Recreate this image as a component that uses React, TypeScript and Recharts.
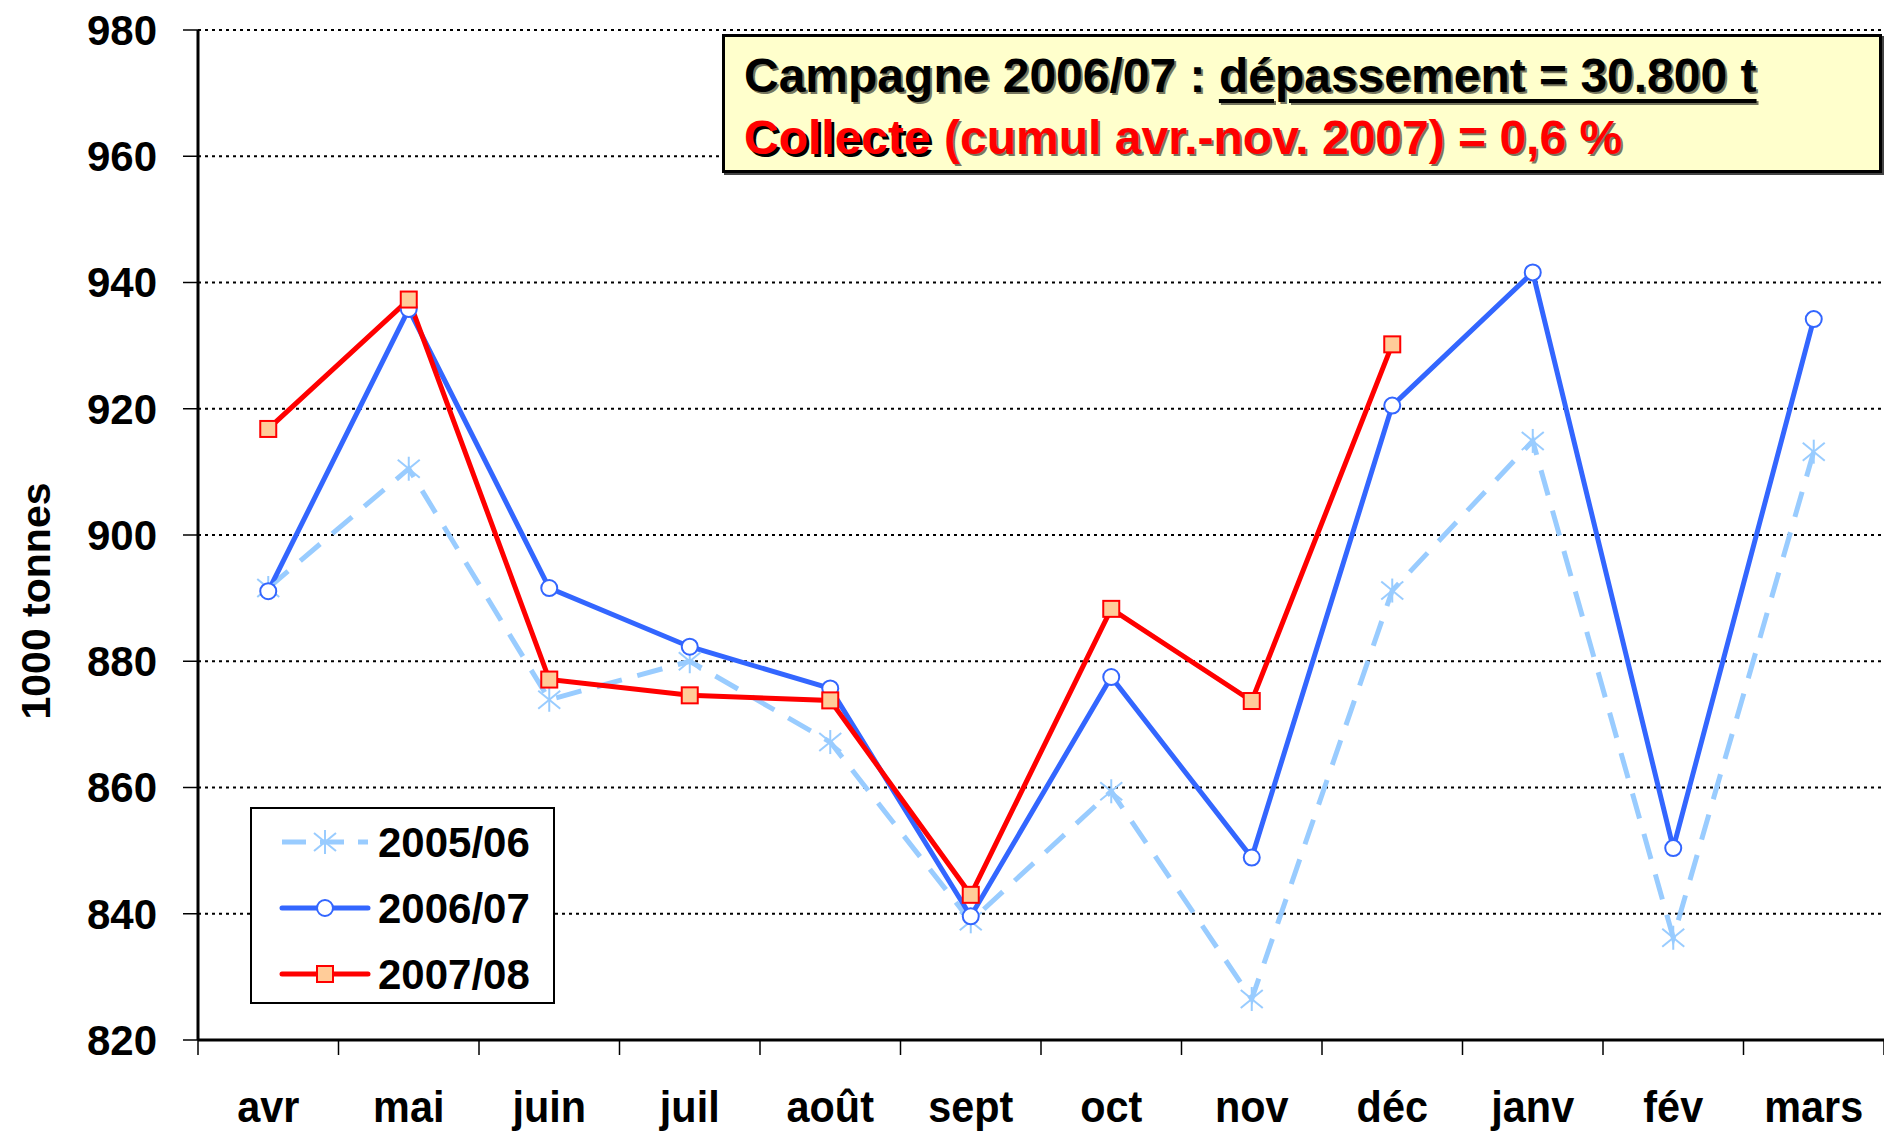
import React from 'react'
import { LineChart, Line, XAxis, YAxis, CartesianGrid, Legend } from 'recharts'

const FONT = '"Liberation Sans", Arial, sans-serif'

const months = ['avr', 'mai', 'juin', 'juil', 'août', 'sept', 'oct', 'nov', 'déc', 'janv', 'fév', 'mars']
const v2005 = [891.6, 910.5, 873.9, 880.0, 867.2, 838.8, 859.4, 826.5, 891.2, 914.9, 836.2, 913.2]
const v2006 = [891.1, 935.8, 891.6, 882.3, 875.7, 839.6, 877.5, 848.9, 920.5, 941.6, 850.4, 934.2]
const v2007 = [916.8, 937.3, 877.1, 874.6, 873.8, 843.0, 888.3, 873.7, 930.2, null, null, null]
const yTicks = [820, 840, 860, 880, 900, 920, 940, 960, 980]

const seriesNames = ['2005/06', '2006/07', '2007/08']
const C_LIGHT = '#99CCFF'
const C_BLUE = '#3366FF'
const C_RED = '#FF0000'

const data = months.map((m, i) => ({
  month: m,
  a: v2005[i],
  b: v2006[i],
  c: v2007[i],
}))

// marqueurs
const Star = ({ cx, cy, k }: { cx: number; cy: number; k?: string }) => (
  <g key={k}>
    <line x1={cx} y1={cy - 12} x2={cx} y2={cy + 12} stroke={C_LIGHT} strokeWidth={2} />
    <line x1={cx - 11} y1={cy - 9} x2={cx + 11} y2={cy + 9} stroke={C_LIGHT} strokeWidth={2} />
    <line x1={cx - 11} y1={cy + 9} x2={cx + 11} y2={cy - 9} stroke={C_LIGHT} strokeWidth={2} />
  </g>
)
const Circle = ({ cx, cy, k }: { cx: number; cy: number; k?: string }) => (
  <circle key={k} cx={cx} cy={cy} r={8} fill="#fff" stroke={C_BLUE} strokeWidth={2} />
)
const Square = ({ cx, cy, k }: { cx: number; cy: number; k?: string }) => (
  <rect key={k} x={cx - 8} y={cy - 8} width={16} height={16} fill="#FFCC99" stroke={C_RED} strokeWidth={2} />
)

const dotFn = (Shape: typeof Star, name: string) => (p: any) => {
  if (p.cx == null || p.cy == null || p.value == null) return <g key={`${name}-${p.index}`} />
  return <Shape key={`${name}-${p.index}`} k={`${name}-${p.index}`} cx={p.cx} cy={p.cy} />
}

const MonthTick = (props: any) => {
  const { x, y, payload, index, visibleTicksCount } = props
  const half = payload?.offset || 70.25
  return (
    <g>
      <line x1={x - half} x2={x - half} y1={y} y2={y + 15} stroke="#000" strokeWidth={1.5} />
      {index === visibleTicksCount - 1 && (
        <line x1={x + half} x2={x + half} y1={y} y2={y + 15} stroke="#000" strokeWidth={1.5} />
      )}
      <text transform={`translate(${x},${y + 82}) scale(0.92,1)`} textAnchor="middle"
        fontFamily={FONT} fontWeight={700} fontSize={45} fill="#000">{payload.value}</text>
    </g>
  )
}

const LegendBox = () => {
  const rows = [
    { name: seriesNames[0], color: C_LIGHT, dash: '24 14', Shape: Star },
    { name: seriesNames[1], color: C_BLUE, dash: undefined, Shape: Circle },
    { name: seriesNames[2], color: C_RED, dash: undefined, Shape: Square },
  ]
  return (
    <div style={{ width: 305, height: 197, border: '2px solid #000', background: '#fff', boxSizing: 'border-box' }}>
      <svg width={301} height={193}>
        {rows.map((r, i) => {
          const cy = 33 + i * 66
          return (
            <g key={r.name}>
              <line x1={30} x2={116} y1={cy} y2={cy} stroke={r.color} strokeWidth={5} strokeDasharray={r.dash} strokeLinecap={r.dash ? 'butt' : 'round'} />
              <r.Shape cx={73} cy={cy} />
              <text x={126} y={cy + 15} fontFamily={FONT} fontWeight={700} fontSize={42} fill="#000">{r.name}</text>
            </g>
          )
        })}
      </svg>
    </div>
  )
}

export default function App() {
  const shadow = '2px 2px 0 rgba(0,0,0,0.55)'
  return (
    <div style={{ position: 'absolute', left: 0, top: 0, width: 1884, height: 1132, background: '#fff', fontFamily: FONT }}>
      <LineChart width={1884} height={1132} data={data} margin={{ top: 30, right: 0, bottom: 0, left: 0 }}>
        <CartesianGrid vertical={false} stroke="#000" strokeWidth={2} strokeDasharray="3 4" />
        <XAxis dataKey="month" scale="band" interval={0} height={92} tickSize={0} tickMargin={0} tickLine={false}
          axisLine={{ stroke: '#000', strokeWidth: 3 }} tick={<MonthTick />} />
        <YAxis domain={[820, 980]} ticks={yTicks} interval={0} width={198} tickSize={15} tickMargin={26}
          axisLine={{ stroke: '#000', strokeWidth: 3 }} tickLine={{ stroke: '#000', strokeWidth: 1.5 }}
          tick={{ fontFamily: FONT, fontWeight: 700, fontSize: 42, fill: '#000' }}
          label={{
            content: () => (
              <text x={50} y={601} transform="rotate(-90 50 601)" textAnchor="middle"
                fontFamily={FONT} fontWeight={700} fontSize={41} fill="#000">1000 tonnes</text>
            ),
          }} />
        <Legend layout="horizontal" verticalAlign="middle" align="center" content={<LegendBox />}
          wrapperStyle={{ position: 'absolute', left: 250, top: 807, width: 305, height: 197 }} />
        <Line dataKey="a" name={seriesNames[0]} stroke={C_LIGHT} strokeWidth={5} strokeDasharray="26 16"
          dot={dotFn(Star, 'a')} activeDot={false} isAnimationActive={false} />
        <Line dataKey="b" name={seriesNames[1]} stroke={C_BLUE} strokeWidth={5}
          dot={dotFn(Circle, 'b')} activeDot={false} isAnimationActive={false} />
        <Line dataKey="c" name={seriesNames[2]} stroke={C_RED} strokeWidth={5}
          dot={dotFn(Square, 'c')} activeDot={false} isAnimationActive={false} />
      </LineChart>

      {/* encadré */}
      <div style={{
        position: 'absolute', left: 722, top: 34, width: 1160, height: 139, boxSizing: 'border-box',
        background: '#FFFFCC', border: '3px solid #000', boxShadow: '2px 2px 0 #444',
        fontWeight: 700, fontSize: 48, lineHeight: '62px', padding: '8px 0 0 19px',
      }}>
        <div style={{ color: '#000', textShadow: shadow, whiteSpace: 'nowrap' }}>
          Campagne 2006/07 : <span style={{ textDecoration: 'underline', textDecorationThickness: 4, textUnderlineOffset: 7 }}>dépassement = 30.800 t</span>
        </div>
        <div style={{ color: C_RED, textShadow: shadow, whiteSpace: 'nowrap' }}>
          <span style={{ textShadow: '3px 3px 0 #000' }}>Collecte</span> (cumul avr.-nov. 2007) = 0,6 %
        </div>
      </div>
    </div>
  )
}
